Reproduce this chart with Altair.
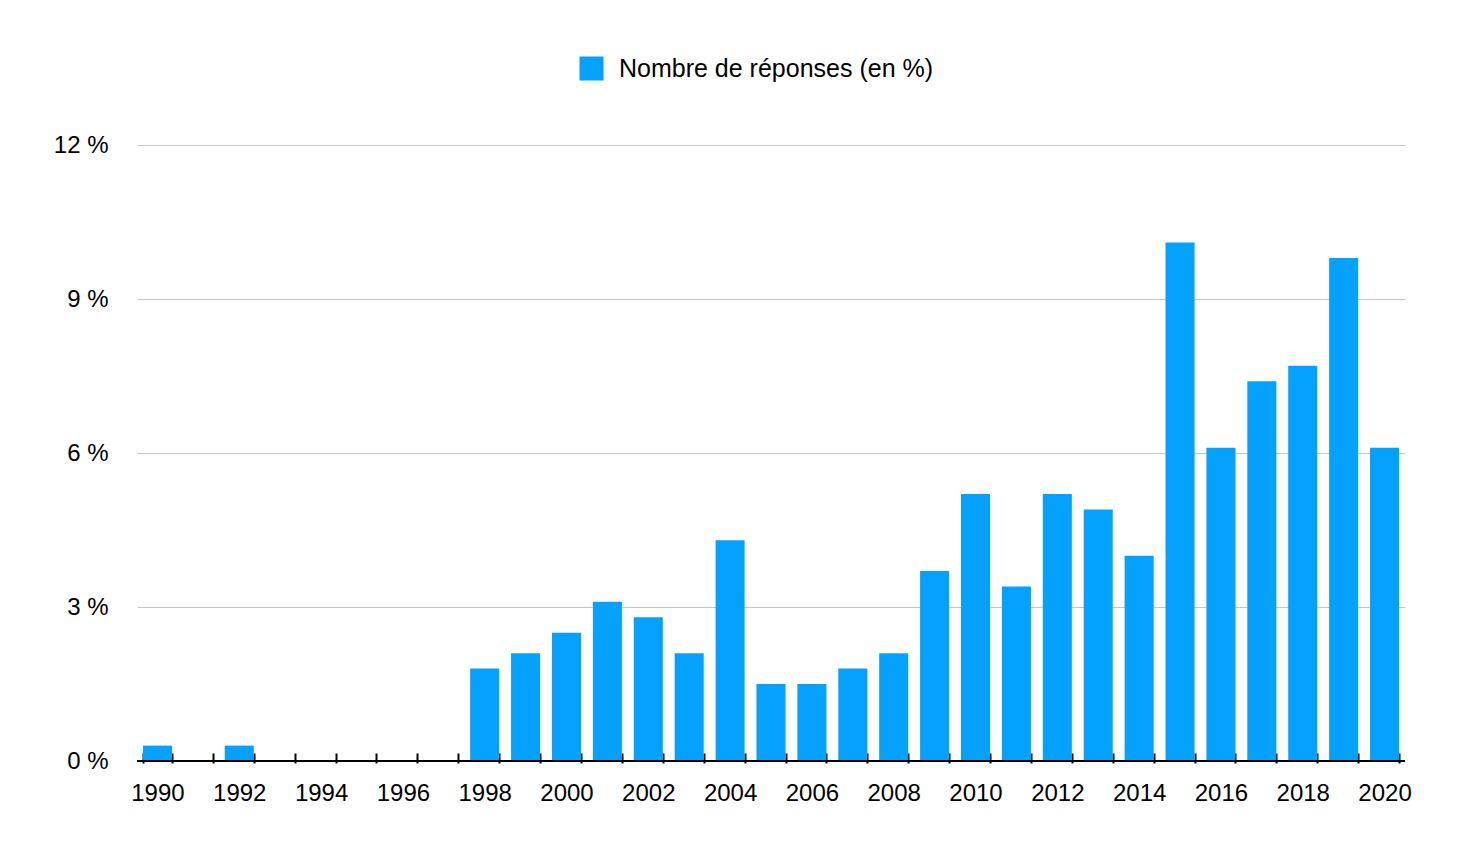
import altair as alt
import pandas as pd

years = [1990, 1991, 1992, 1993, 1994, 1995, 1996, 1997, 1998, 1999, 2000,
         2001, 2002, 2003, 2004, 2005, 2006, 2007, 2008, 2009, 2010,
         2011, 2012, 2013, 2014, 2015, 2016, 2017, 2018, 2019, 2020]
values = [0.3, 0, 0.3, 0, 0, 0, 0, 0, 1.8, 2.1, 2.5,
          3.1, 2.8, 2.1, 4.3, 1.5, 1.5, 1.8, 2.1, 3.7, 5.2,
          3.4, 5.2, 4.9, 4.0, 10.1, 6.1, 7.4, 7.7, 9.8, 6.1]
series_name = "Nombre de réponses (en %)"
y_ticks = [0, 3, 6, 9, 12]

df = pd.DataFrame({"year": years, "value": values, "series": series_name})

FONT = "Liberation Sans"
BLUE = "#05a1fe"

x_enc = alt.X(
    "year:O",
    sort=years,
    title=None,
    scale=alt.Scale(paddingInner=0.29, paddingOuter=0.145),
    axis=alt.Axis(
        tickBand="extent",
        domain=False,
        ticks=True,
        tickColor="#000000",
        tickWidth=2,
        tickSize=10,
        offset=-8,
        labelAngle=0,
        labelFont=FONT,
        labelFontSize=24,
        labelColor="#000000",
        labelPadding=18,
        labelExpr="datum.value % 2 == 0 ? datum.value : ''",
        grid=False,
    ),
)

bars = alt.Chart(df).mark_bar().encode(
    x=x_enc,
    y=alt.Y(
        "value:Q",
        title=None,
        scale=alt.Scale(domain=[0, 12], nice=False),
        axis=alt.Axis(
            values=y_ticks,
            domain=False,
            ticks=False,
            grid=True,
            gridColor="#c4c4c4",
            gridWidth=1.2,
            labelFont=FONT,
            labelFontSize=24,
            labelColor="#000000",
            labelPadding=29,
            labelExpr="datum.value + ' %'",
        ),
    ),
    color=alt.Color(
        "series:N",
        scale=alt.Scale(range=[BLUE]),
        legend=alt.Legend(
            title=None,
            orient="none",
            legendX=442,
            legendY=-89,
            symbolType="square",
            symbolSize=576,
            symbolStrokeWidth=0,
            labelFont=FONT,
            labelFontSize=25,
            labelColor="#000000",
            labelOffset=15,
            labelLimit=0,
            padding=0,
        ),
    ),
)

baseline = alt.Chart(pd.DataFrame({"y": [0]})).mark_rule(
    color="#000000", strokeWidth=2
).encode(y=alt.Y("y:Q"))

chart = alt.layer(bars, baseline).properties(
    width=1268,
    height=616,
    padding={"left": 129, "top": 137, "right": 57, "bottom": 90},
    autosize="none",
    background="#ffffff",
).configure_view(stroke=None, strokeWidth=0)

chart.save("out.html", embed_options={"renderer": "svg", "actions": False})
